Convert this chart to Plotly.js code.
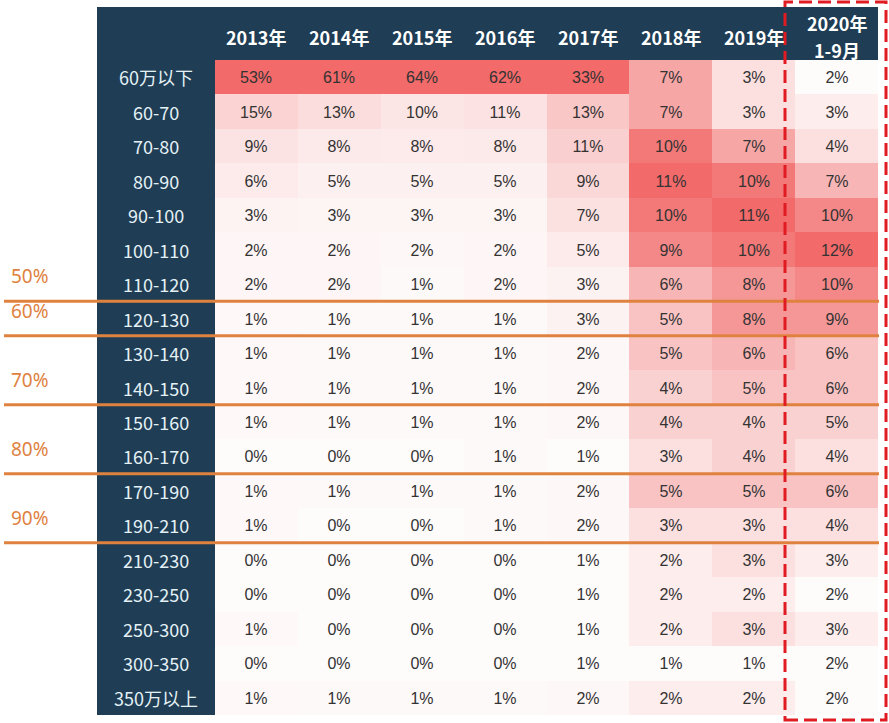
<!DOCTYPE html>
<html>
<head>
<meta charset="utf-8">
<script src="https://cdn.plot.ly/plotly-3.0.1.min.js"></script>
<style>html,body{margin:0;padding:0;background:#fff;}#chart{width:889px;height:723px;}</style>
</head>
<body>
<div id="chart"></div>
<script>
// ---- data ----
const years = ['2013年','2014年','2015年','2016年','2017年','2018年','2019年','2020年<br>1-9月'];
const priceBands = ['60万以下','60-70','70-80','80-90','90-100','100-110','110-120','120-130','130-140','140-150','150-160','160-170','170-190','190-210','210-230','230-250','250-300','300-350','350万以上'];
const v2013 = [53,15,9,6,3,2,2,1,1,1,1,0,1,1,0,0,1,0,1];
const v2014 = [61,13,8,5,3,2,2,1,1,1,1,0,1,0,0,0,0,0,1];
const v2015 = [64,10,8,5,3,2,1,1,1,1,1,0,1,0,0,0,0,0,1];
const v2016 = [62,11,8,5,3,2,2,1,1,1,1,1,1,1,0,0,0,0,1];
const v2017 = [33,13,11,9,7,5,3,3,2,2,2,1,2,2,1,1,1,1,2];
const v2018 = [7,7,10,11,10,9,6,5,5,4,4,3,5,3,2,2,2,1,2];
const v2019 = [3,3,7,10,11,10,8,8,6,5,4,4,5,3,3,2,3,1,2];
const v2020 = [2,3,4,7,10,12,10,9,6,6,5,4,6,4,3,2,3,2,2];
const cumulativeLabels = ['50%','60%','70%','80%','90%'];
const cumulativeAfterBand = ['110-120','120-130','140-150','160-170','190-210'];

// ---- build ----
const cols = [v2013,v2014,v2015,v2016,v2017,v2018,v2019,v2020];
const colMax = cols.map(c => Math.max(...c));
const colMin = cols.map(c => Math.min(...c));
const z = priceBands.map((_, i) => cols.map((c, j) => (c[i] - colMin[j]) / (colMax[j] - colMin[j])));
const txt = priceBands.map((_, i) => cols.map(c => c[i] + '%'));

const W = 889, H = 723, L = 215, R = 11, T = 60, B = 8;
const pw = W - L - R, ph = H - T - B;
const px = x => (x - L) / pw;
const py = y => (H - B - y) / ph;

const navy = '#1f3d54';
const orange = '#e0823f';

const trace = {
  type: 'heatmap',
  x: years, y: priceBands, z: z, text: txt,
  texttemplate: '%{text}',
  textfont: {family: 'Liberation Sans Narrow, Liberation Sans, Arial, sans-serif', size: 16, color: '#333333'},
  colorscale: [[0, '#fefbfb'], [0.5, '#f8b5b5'], [1, '#f26a6a']],
  zmin: 0, zmax: 1, showscale: false, hoverinfo: 'skip'
};

const shapes = [
  {type:'rect', xref:'paper', yref:'paper', x0:px(97), x1:1, y0:1, y1:py(7), fillcolor:navy, line:{width:0}, layer:'below'},
  {type:'rect', xref:'paper', yref:'paper', x0:px(97), x1:0, y0:0, y1:py(7), fillcolor:navy, line:{width:0}, layer:'below'}
];
const annotations = [];

priceBands.forEach(b => annotations.push({
  xref:'paper', yref:'y', x:px(156), y:b, text:b, showarrow:false,
  xanchor:'center', yanchor:'middle',
  font:{family:'Noto Sans CJK SC, sans-serif', size:18, color:'#e4f1f6'}
}));
years.forEach(yv => {
  const lines = yv.split('<br>');
  const gap = 27;
  lines.forEach((ln, k) => annotations.push({
    xref:'x', yref:'paper', x:yv, y:py(37), yshift:((lines.length - 1) / 2 - k) * gap,
    text:'<b>'+ln+'</b>', showarrow:false, xanchor:'center', yanchor:'middle',
    font:{family:'Noto Sans CJK SC, sans-serif', size:18, color:'#ffffff'}
  }));
});

cumulativeAfterBand.forEach((b, k) => {
  const yb = priceBands.indexOf(b) + 0.5;
  shapes.push({type:'line', xref:'paper', yref:'y', x0:px(4), x1:px(879), y0:yb, y1:yb,
    line:{color:orange, width:3}, layer:'above'});
  annotations.push({xref:'paper', yref:'y', x:px(9), y:yb, yshift:25, text:cumulativeLabels[k],
    showarrow:false, xanchor:'left', yanchor:'middle',
    font:{family:'Noto Sans, sans-serif', size:19, color:orange}});
});

shapes.push({type:'rect', xref:'paper', yref:'paper', x0:px(785), x1:px(886), y0:py(720), y1:py(2),
  line:{color:'#e01b22', width:3, dash:'13px,6px'}, fillcolor:'rgba(0,0,0,0)', layer:'above'});

const layout = {
  width: W, height: H,
  margin: {l: L, r: R, t: T, b: B},
  paper_bgcolor: '#ffffff', plot_bgcolor: '#ffffff',
  xaxis: {type:'category', showticklabels:false, showgrid:false, zeroline:false, ticks:'', fixedrange:true},
  yaxis: {type:'category', autorange:'reversed', showticklabels:false, showgrid:false, zeroline:false, ticks:'', fixedrange:true},
  shapes: shapes, annotations: annotations, showlegend:false
};

Plotly.newPlot('chart', [trace], layout, {displayModeBar:false, staticPlot:true});
</script>
</body>
</html>
